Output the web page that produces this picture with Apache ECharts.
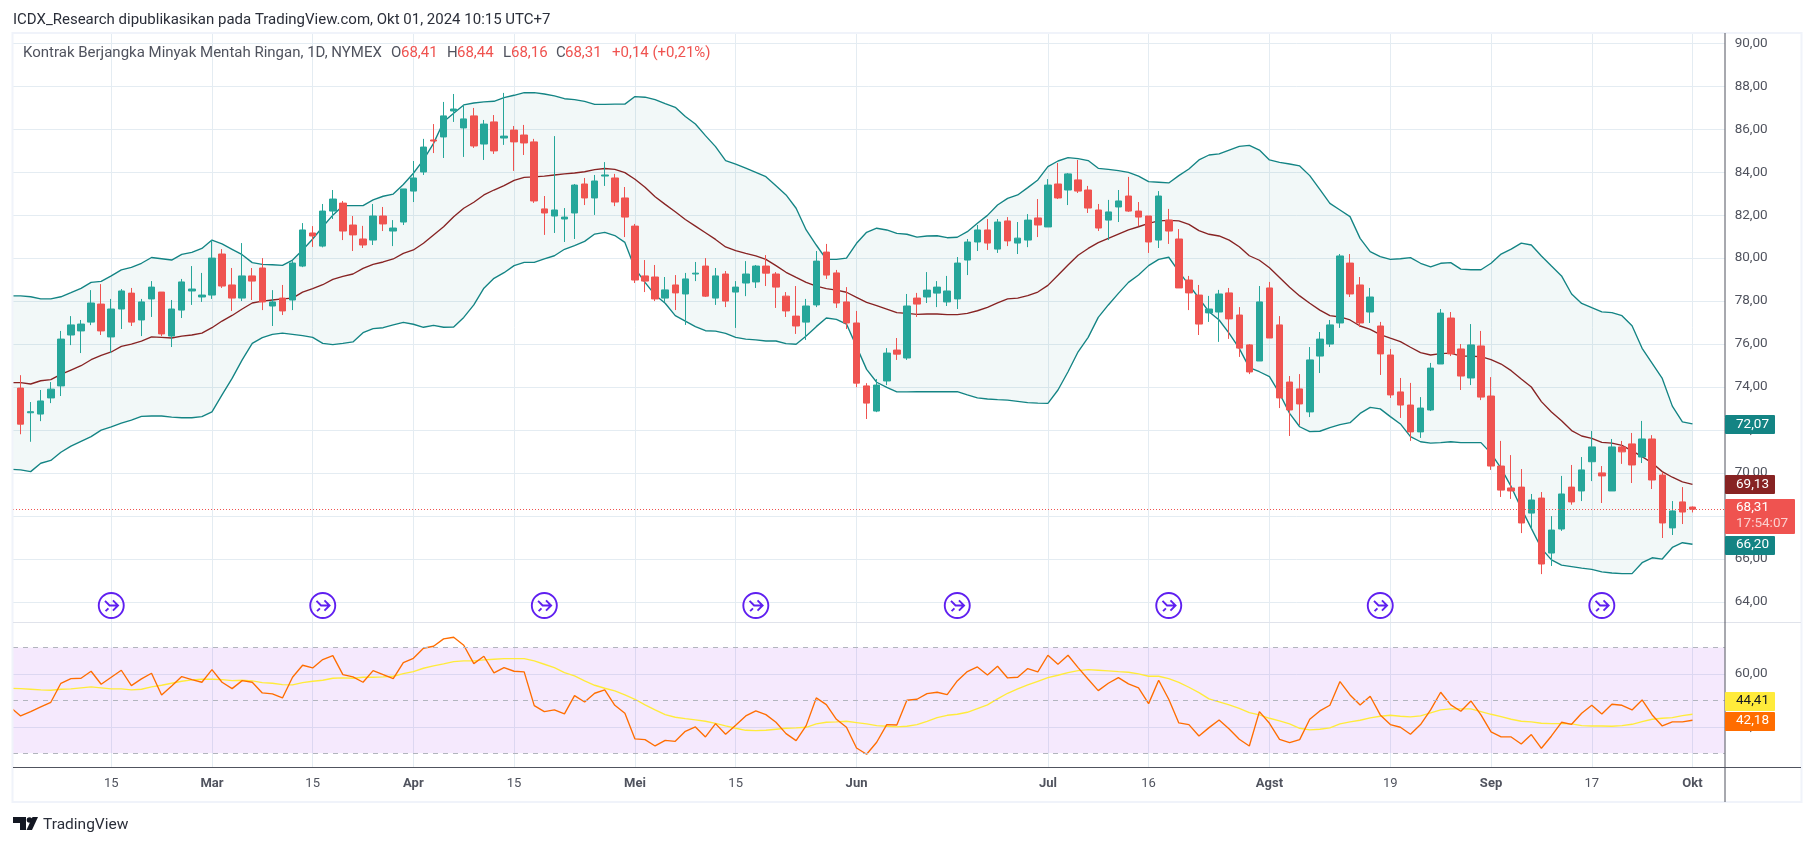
<!DOCTYPE html>
<html><head><meta charset="utf-8"><style>html,body{margin:0;padding:0;background:#fff}#c{width:1814px;height:846px}</style>
<script src="https://cdn.jsdelivr.net/npm/echarts@6/dist/echarts.min.js"></script></head><body><div id="c"></div>
<script>
// ---------- data, one entry per trading day, 2 Feb - 1 Oct 2024 ----------
const opens=[73.95,72.80,72.74,73.49,74.05,76.42,76.61,77.02,77.86,76.33,77.63,78.37,77.12,78.10,78.42,76.37,77.58,78.47,78.19,78.28,80.19,78.75,78.14,79.17,79.54,77.77,78.14,78.05,79.63,81.17,80.56,82.19,82.56,81.54,80.89,80.84,81.96,81.26,81.68,83.12,84.01,85.50,85.64,86.85,86.06,86.62,85.31,86.34,85.59,85.96,85.73,85.41,82.29,81.96,81.82,82.10,83.45,82.80,83.82,83.73,82.80,81.49,79.17,79.12,78.14,78.75,78.33,79.26,79.63,78.14,79.26,78.42,78.84,78.89,79.63,79.26,78.23,77.30,77.02,77.82,80.28,79.31,77.96,76.98,74.05,72.88,74.28,75.72,75.35,78.14,78.19,78.37,77.96,78.10,79.91,80.75,81.31,80.42,81.73,80.70,80.84,81.87,81.45,83.45,83.17,83.64,83.17,82.24,81.77,82.38,82.89,82.19,81.96,80.84,81.77,80.89,78.98,78.28,77.45,77.49,78.38,77.35,75.96,75.21,78.61,76.89,74.23,73.91,72.84,75.44,76.00,76.98,79.77,78.75,77.49,76.84,75.49,73.77,73.16,71.91,72.93,75.07,77.21,75.77,74.42,75.91,73.58,70.32,69.30,69.34,68.13,68.83,66.27,67.39,69.34,69.16,70.52,70.00,69.16,71.21,71.35,70.74,71.58,69.90,67.44,68.65,68.41];
const highs=[74.55,73.30,73.86,74.23,76.61,77.30,77.12,78.51,78.79,78.10,78.56,78.61,78.10,78.93,78.42,78.05,79.03,79.63,79.31,80.84,80.42,79.54,80.70,79.54,80.00,78.51,78.75,79.86,81.63,81.49,82.52,83.17,82.66,81.96,81.50,82.52,82.38,81.77,83.22,84.52,85.55,86.24,87.27,87.64,87.13,86.99,86.43,86.66,87.69,86.15,86.20,85.55,82.89,85.68,82.33,83.45,83.73,83.87,84.47,83.92,83.31,81.59,79.91,79.68,79.12,79.21,79.31,79.82,80.00,79.54,79.40,78.93,79.86,79.68,80.14,79.35,78.42,78.70,78.10,80.33,80.66,79.45,78.65,77.54,74.18,74.37,75.81,76.28,78.33,78.38,79.35,78.93,79.17,80.05,80.89,81.54,81.82,81.82,81.91,81.68,82.05,82.75,83.68,84.43,83.96,84.57,83.36,82.52,82.71,83.17,83.78,82.61,81.96,83.12,82.29,81.35,79.17,78.75,78.24,78.52,78.61,77.72,76.00,78.70,78.89,77.30,74.51,74.60,75.86,76.56,77.12,80.19,80.19,79.12,78.61,77.03,75.77,74.42,74.19,73.53,75.12,77.63,77.49,76.00,76.93,76.61,74.46,71.49,70.83,70.18,69.02,69.11,67.99,69.86,70.37,70.74,71.95,70.32,71.58,71.49,71.86,72.42,71.76,70.04,68.69,69.34,68.44];
const lows=[71.80,71.45,72.41,73.25,73.58,75.95,75.58,76.88,76.42,75.58,76.70,76.84,76.37,77.26,76.37,75.86,77.21,77.82,77.96,78.10,78.61,77.54,78.00,78.05,77.58,76.84,77.35,77.58,79.58,80.52,80.50,81.82,80.84,80.33,80.47,80.61,81.26,80.56,81.54,82.61,83.87,84.89,84.66,86.34,84.71,85.13,84.57,84.85,85.27,84.06,84.80,82.57,81.08,81.17,80.75,80.89,82.47,82.01,83.36,82.42,80.98,78.84,78.42,78.00,77.96,77.58,76.89,78.93,78.19,77.82,77.72,76.75,78.23,78.61,78.70,77.68,77.26,76.47,76.19,77.72,79.03,77.68,76.70,73.99,72.51,72.83,74.09,75.26,75.26,77.26,77.91,77.72,77.77,77.63,79.21,80.33,80.38,80.24,80.56,80.19,80.51,80.98,81.45,82.75,82.47,83.03,82.10,81.26,80.84,81.68,82.15,81.49,80.24,80.47,80.66,78.61,77.58,76.42,77.03,76.10,76.24,75.40,74.60,75.21,76.28,73.02,71.72,72.23,72.60,74.65,75.86,76.75,78.19,76.79,76.98,74.56,73.49,72.56,71.49,71.63,72.88,75.07,75.44,73.86,74.09,73.39,70.14,68.88,68.79,67.20,67.40,65.29,65.67,67.30,68.52,68.69,69.62,68.60,69.16,70.42,69.53,70.46,69.25,66.97,67.11,67.62,68.16];
const closes=[72.27,72.85,73.35,73.90,76.23,76.89,76.93,77.91,76.61,77.63,78.47,77.02,77.96,78.65,76.47,77.63,78.89,78.56,78.28,80.00,78.70,78.14,79.17,78.93,77.96,77.96,77.54,79.77,81.31,81.03,82.19,82.75,81.26,81.08,80.61,81.96,81.59,81.40,83.22,83.73,85.17,85.45,86.62,86.94,86.48,85.22,86.24,84.99,85.68,85.41,85.36,82.66,82.10,82.24,81.91,83.40,82.80,83.59,83.87,82.61,81.91,78.98,78.93,78.10,78.52,78.38,79.03,79.30,78.23,79.17,78.00,78.65,79.26,79.63,79.30,78.65,77.54,76.84,77.77,79.86,79.21,77.91,76.98,74.18,73.25,74.09,75.58,75.53,77.77,77.86,78.51,78.65,78.47,79.77,80.75,81.31,80.70,81.68,80.80,80.93,81.77,81.54,83.40,82.80,83.92,83.12,82.33,81.40,82.15,82.66,82.19,81.91,80.75,82.89,81.26,78.61,78.38,76.93,77.63,78.33,77.17,75.81,74.70,77.96,76.28,73.49,72.93,73.21,75.26,76.23,76.89,80.10,78.33,76.98,78.19,75.54,73.63,73.16,71.91,73.02,74.88,77.44,75.54,74.51,75.96,73.53,70.32,69.20,69.16,67.67,68.74,65.76,67.34,69.02,68.65,70.14,71.21,69.86,71.21,70.98,70.37,71.58,69.67,67.67,68.23,68.18,68.31];
// indicator arrays start one bar before the first candle (that bar is cut off by the pane edge)
const bbUpper=[78.24,78.24,78.20,78.10,78.10,78.20,78.39,78.59,78.87,78.92,79.17,79.45,79.57,79.76,80.03,79.97,79.91,80.17,80.27,80.45,80.84,80.66,80.41,80.16,79.79,79.71,79.69,79.66,79.91,80.38,80.89,81.46,82.00,82.44,82.44,82.44,82.71,82.88,82.98,83.43,83.95,84.57,85.34,86.35,86.74,87.13,87.22,87.27,87.30,87.47,87.58,87.70,87.70,87.64,87.55,87.42,87.38,87.30,87.16,87.16,87.17,87.17,87.52,87.49,87.38,87.19,87.02,86.59,86.24,85.70,85.19,84.54,84.38,84.19,83.99,83.79,83.37,82.94,82.32,81.31,80.61,79.94,79.94,80.00,80.69,81.20,81.39,81.31,81.15,81.11,80.98,81.03,81.04,80.95,80.97,81.23,81.62,81.99,82.47,82.78,82.94,83.28,83.64,84.26,84.52,84.68,84.63,84.54,84.18,84.13,84.07,83.99,83.82,83.56,83.53,83.50,83.84,84.15,84.57,84.80,84.85,85.03,85.20,85.25,85.03,84.57,84.46,84.38,84.29,83.84,83.20,82.55,82.24,81.93,80.92,80.30,80.07,79.94,79.97,80.02,79.76,79.59,79.76,79.79,79.49,79.46,79.46,79.76,80.19,80.42,80.70,80.61,80.10,79.63,79.17,78.33,77.89,77.69,77.50,77.46,77.32,76.85,75.80,75.10,74.40,73.11,72.38,72.28];
const bbBasis=[74.20,74.20,74.14,74.29,74.34,74.59,74.79,74.99,75.27,75.47,75.63,75.89,76.00,76.14,76.33,76.31,76.28,76.37,76.42,76.51,76.76,77.07,77.33,77.63,77.91,78.00,78.05,78.10,78.14,78.42,78.58,78.76,79.01,79.15,79.26,79.52,79.71,79.82,79.96,80.22,80.38,80.69,81.08,81.46,81.93,82.32,82.60,82.94,83.17,83.37,83.62,83.76,83.78,83.82,83.87,83.92,83.96,84.02,84.12,84.17,84.13,83.98,83.67,83.30,82.86,82.50,82.16,81.80,81.49,81.18,80.87,80.52,80.35,80.22,80.10,79.94,79.65,79.34,79.10,78.87,78.70,78.58,78.51,78.41,78.17,77.94,77.79,77.63,77.46,77.43,77.38,77.40,77.40,77.37,77.37,77.43,77.55,77.71,77.92,78.10,78.14,78.25,78.42,78.73,79.20,79.68,80.13,80.45,80.72,80.92,81.12,81.31,81.46,81.62,81.73,81.76,81.73,81.57,81.28,81.11,81.03,80.84,80.53,80.11,79.90,79.55,79.10,78.64,78.24,77.90,77.58,77.32,77.26,77.12,76.84,76.68,76.44,76.27,76.11,75.85,75.60,75.49,75.55,75.58,75.44,75.44,75.41,75.27,75.07,74.76,74.37,74.00,73.32,72.84,72.43,71.97,71.72,71.61,71.42,71.39,71.28,71.03,70.76,70.46,70.06,69.80,69.58,69.47];
const bbLower=[70.17,70.14,70.06,70.45,70.58,70.96,71.25,71.47,71.69,71.99,72.14,72.32,72.46,72.63,72.65,72.65,72.60,72.57,72.57,72.62,72.84,73.63,74.40,75.26,76.03,76.30,76.45,76.51,76.45,76.39,76.31,76.03,75.97,76.03,76.10,76.53,76.72,76.76,76.89,77.01,76.92,76.78,76.87,76.78,76.79,77.24,77.82,78.60,79.06,79.32,79.65,79.80,79.80,79.96,80.11,80.41,80.58,80.78,81.12,81.20,81.05,80.73,79.52,78.87,78.28,77.90,77.32,77.07,76.81,76.62,76.60,76.50,76.31,76.23,76.19,76.14,76.14,76.02,75.99,76.37,76.81,77.21,77.15,76.93,75.88,74.82,74.22,73.98,73.77,73.77,73.78,73.78,73.78,73.78,73.78,73.63,73.49,73.44,73.41,73.39,73.33,73.27,73.25,73.24,73.86,74.71,75.64,76.31,77.24,77.82,78.36,78.87,79.21,79.65,79.94,80.04,79.37,78.75,78.13,77.50,77.12,76.50,75.80,74.90,74.71,74.48,73.70,72.77,72.15,71.92,71.94,72.11,72.25,72.34,72.77,73.05,72.98,72.62,72.28,71.69,71.45,71.39,71.41,71.45,71.41,71.41,71.41,70.91,70.21,69.36,68.35,67.42,66.49,65.95,65.71,65.64,65.57,65.51,65.39,65.34,65.31,65.31,65.82,66.05,65.99,66.53,66.75,66.68];
const rsiLine=[47.4,44.13,45.77,47.54,49.31,56.50,58.27,58.40,61.05,56.13,58.78,61.43,55.62,58.15,60.29,52.09,55.49,59.03,57.89,56.88,61.68,56.88,54.48,57.51,56.88,52.84,52.46,50.95,58.78,63.32,62.31,65.47,66.98,59.79,58.90,56.88,61.30,59.79,58.27,64.33,65.97,69.76,70.52,73.30,73.93,70.90,63.95,66.73,60.42,62.44,61.05,60.80,48.04,45.77,46.40,44.89,51.83,49.43,52.72,53.98,48.17,45.14,35.42,35.17,32.77,34.91,34.53,38.32,39.96,36.18,41.23,37.19,40.60,44.13,46.02,44.64,41.73,37.44,34.79,40.47,50.95,48.42,42.87,39.84,32.01,29.61,34.16,40.85,40.72,50.07,50.44,52.59,53.10,52.21,57.39,60.92,62.69,59.66,62.94,58.52,58.78,62.06,60.80,67.11,63.70,67.11,62.44,58.02,53.73,56.50,58.65,56.25,54.74,48.80,57.64,50.44,41.48,40.85,36.55,39.71,42.62,39.21,35.29,32.77,45.77,41.35,35.29,34.03,35.17,42.87,46.02,48.17,57.14,52.09,48.30,51.58,44.51,40.85,39.84,37.19,40.85,46.40,53.10,48.30,45.90,49.81,44.51,38.07,36.18,36.18,33.52,37.06,31.88,36.55,41.73,40.97,45.14,48.17,44.89,48.55,48.17,46.40,50.19,44.51,40.34,41.86,41.86,42.49];
const rsiMa=[54.6,54.48,54.23,53.98,53.85,54.23,54.36,54.74,55.12,54.74,54.36,54.36,53.98,54.23,55.12,55.75,56.50,57.26,57.77,58.02,58.02,57.89,57.51,57.64,57.39,56.76,56.50,56.00,55.87,56.76,57.26,57.64,58.40,58.52,58.40,58.78,58.78,58.90,59.16,60.17,60.92,62.19,63.07,63.83,64.71,64.96,64.96,65.34,65.60,65.85,65.85,65.85,64.96,63.70,62.44,60.54,59.28,57.39,55.75,54.61,53.60,52.09,50.44,48.30,46.40,44.64,43.63,43.12,42.62,42.11,41.35,40.34,39.46,38.70,38.58,38.70,39.08,39.46,39.59,39.84,41.10,41.73,41.86,42.11,41.60,41.10,40.47,40.22,39.97,40.22,40.85,42.11,43.50,44.38,44.76,45.52,46.91,48.30,50.57,52.72,54.36,55.87,57.26,58.65,59.53,60.54,61.30,61.68,61.43,61.18,60.92,60.67,60.04,59.16,59.16,58.27,56.88,54.99,52.97,50.57,49.43,48.30,47.03,45.39,44.51,43.25,42.24,41.10,39.46,38.83,39.08,39.59,41.10,41.86,42.49,43.37,44.00,44.38,44.00,43.75,44.13,45.27,46.40,46.78,46.78,46.78,45.77,44.76,43.88,42.87,42.11,41.86,41.35,41.23,41.23,41.10,40.47,40.34,40.34,40.22,40.47,40.97,41.98,42.87,43.25,43.50,44.26,44.76];
const dateTickBars=[9,19,29,39,49,61,71,83,102,112,124,136,146,156,166];
const dateTickNames=['15','Mar','15','Apr','15','Mei','15','Jun','Jul','16','Agst','19','Sep','17','Okt'];
const priceTicks=[64,66,68,70,72,74,76,78,80,82,84,86,88,90];
const rsiTicks=[40,60];
const rsiLevels=[70,50,30];
const eventBars=[9,30,52,73,93,114,135,157];
const eventPrice=63.83;
const lastPrice=68.31;

// ---------- styling ----------
const FONT='Roboto, "Noto Sans", sans-serif';
const UP='#26a69a',DOWN='#ef5350',BB='#138484',BASIS='#872323',GRID='#e4ecf2',TXT='#50535e';
const candleData=opens.map((o,i)=>[i,o,closes[i],lows[i],highs[i]]);
const barOf=a=>a.map((v,i)=>[i-1,v]);
const comma=v=>v.toFixed(2).replace('.',',');
const months=new Set(['Mar','Apr','Mei','Jun','Jul','Agst','Sep','Okt']);
const line=(name,data,color,xi)=>({name,type:'line',data,xAxisIndex:xi,yAxisIndex:xi,showSymbol:false,symbol:'none',
  lineStyle:{color,width:1.35},itemStyle:{color},silent:true,z:3});
const xBase={type:'value',min:-0.755,max:169.2,axisLine:{show:false},
  axisTick:{show:false,customValues:dateTickBars},splitLine:{show:true,lineStyle:{color:GRID,width:1}}};
const yBase={type:'value',position:'right',axisLine:{show:false},
  splitLine:{show:true,lineStyle:{color:GRID,width:1}},};
const yLabel=vals=>({customValues:vals,color:TXT,fontFamily:FONT,fontSize:13.5,margin:10,padding:[0,0,4,0],formatter:comma});
const EVENT_ICON='path://M1 12a11 11 0 1 0 22 0a11 11 0 1 0-22 0M6.5 8L10.5 12L18 12M13.5 7.5L18 12L13.5 16.5M9.5 14.5L7 17';

// ---------- fixed page furniture ----------
const txt=(x,y,text,fill,size,extra)=>({type:'text',x,y,z:50,silent:true,style:Object.assign({text,fill,font:`${size}px ${FONT}`,verticalAlign:'middle'},extra||{})});
const box=(x,y,w,h,fill)=>({type:'rect',shape:{x,y,width:w,height:h,r:1},z:49,silent:true,style:{fill}});
const seg=(x1,y1,x2,y2,stroke,lw)=>({type:'line',shape:{x1,y1,x2,y2},z:48,silent:true,style:{stroke,lineWidth:lw||1}});
const graphic=[
  seg(13,622.5,1801,622.5,'#e0e3eb'),
  seg(1725,33,1725,802,'#50535e'),
  seg(13,767.5,1801,767.5,'#50535e'),
  {type:'rect',shape:{x:12.5,y:33,width:1789,height:769},z:47,silent:true,style:{fill:'none',stroke:'#f0f3fa',lineWidth:2}},
  txt(13,20,'ICDX_Research dipublikasikan pada TradingView.com, Okt 01, 2024 10:15 UTC+7','#2a2e39',15),
  txt(23,53,'Kontrak Berjangka Minyak Mentah Ringan, 1D, NYMEX','#50535e',15),
  txt(391,53,'O','#50535e',15),txt(401,53,'68,41',DOWN,15),
  txt(447,53,'H','#50535e',15),txt(457,53,'68,44',DOWN,15),
  txt(503,53,'L','#50535e',15),txt(511,53,'68,16',DOWN,15),
  txt(556,53,'C','#50535e',15),txt(565,53,'68,31',DOWN,15),
  txt(612,53,'+0,14 (+0,21%)',DOWN,15),
  box(1725,415,50,19,BB),txt(1736,424.5,'72,07','#fff',13.5),
  box(1725,475,50,19,BASIS),txt(1736,484.5,'69,13','#fff',13.5),
  box(1725,499,70,35,DOWN),txt(1736,508,'68,31','#fff',13.5),txt(1736,524,'17:54:07','#fbd0cf',13.5),
  box(1725,536,50,19,BB),txt(1736,545,'66,20','#fff',13.5),
  box(1725,692,50,19,'#ffeb3b'),txt(1736,701,'44,41','#131722',13.5),
  box(1725,712,50,19,'#ff6d00'),txt(1736,721,'42,18','#fff',13.5),
  {type:'polygon',z:50,silent:true,shape:{points:[[13,817],[26,817],[26,830],[20,830],[20,823],[13,823]]},style:{fill:'#131722'}},
  {type:'circle',z:50,silent:true,shape:{cx:29.5,cy:820,r:2.8},style:{fill:'#131722'}},
  {type:'polygon',z:50,silent:true,shape:{points:[[32.5,817],[38,817],[32,830],[26.5,830]]},style:{fill:'#131722'}},
  txt(43,825,'TradingView','#2a2e39',15.5),
];

// ---------- chart ----------
const chart=echarts.init(document.getElementById('c'),null,{renderer:'canvas'});
chart.setOption({
  animation:false,backgroundColor:'#fff',graphic,
  grid:[
    {left:13,right:89.3,top:33.5,height:588.5,containLabel:false},
    {left:13,right:89.3,top:622,height:145,containLabel:false}
  ],
  xAxis:[
    Object.assign({},xBase,{gridIndex:0,axisLabel:{show:false}}),
    Object.assign({},xBase,{gridIndex:1,axisLabel:{show:true,customValues:dateTickBars,margin:10,fontFamily:FONT,fontSize:13,color:TXT,hideOverlap:false,
      formatter:v=>{const n=dateTickNames[dateTickBars.indexOf(v)]||'';return months.has(n)?`{m|${n}}`:n;},
      rich:{m:{fontWeight:'bold',fontFamily:FONT,fontSize:13,color:TXT}}}})
  ],
  yAxis:[
    Object.assign({},yBase,{gridIndex:0,min:63.06,max:90.456,axisLabel:yLabel(priceTicks),axisTick:{show:false,customValues:priceTicks}}),
    Object.assign({},yBase,{gridIndex:1,min:24.8,max:79.7,axisLabel:yLabel(rsiTicks),axisTick:{show:false,customValues:rsiTicks}})
  ],
  series:[
    {name:'BB fill',type:'custom',xAxisIndex:0,yAxisIndex:0,silent:true,z:2,data:[[0,bbUpper[0]]],clip:true,
     renderItem:(p,api)=>{
       const top=bbUpper.map((v,i)=>api.coord([i-1,v]));
       const bot=bbLower.map((v,i)=>api.coord([i-1,v])).reverse();
       return {type:'polygon',shape:{points:top.concat(bot)},style:{fill:'rgba(19,132,132,0.055)'},
         clipPath:{type:'rect',shape:{x:p.coordSys.x,y:p.coordSys.y,width:p.coordSys.width,height:p.coordSys.height}}};
     }},
    line('BB upper',barOf(bbUpper),BB,0),
    line('BB lower',barOf(bbLower),BB,0),
    line('BB basis',barOf(bbBasis),BASIS,0),
    {name:'CL1!',type:'candlestick',xAxisIndex:0,yAxisIndex:0,data:candleData,barWidth:7,z:4,silent:true,
     itemStyle:{color:UP,color0:DOWN,borderColor:UP,borderColor0:DOWN,borderWidth:1},
     markLine:{silent:true,symbol:'none',animation:false,label:{show:false},
       lineStyle:{color:DOWN,type:[1,2],width:1},data:[{yAxis:lastPrice}]}},
    {name:'Peristiwa',type:'scatter',xAxisIndex:0,yAxisIndex:0,silent:true,z:5,symbol:EVENT_ICON,symbolSize:25,
     data:eventBars.map(b=>[b,eventPrice]),itemStyle:{color:'rgba(255,255,255,0)',borderColor:'#5f1ff0',borderWidth:1.9,opacity:1}},
    Object.assign(line('RSI',barOf(rsiLine),'#ff6d00',1),{z:4,
      markArea:{silent:true,itemStyle:{color:'rgba(145,15,235,0.09)'},data:[[{yAxis:rsiLevels[0]},{yAxis:rsiLevels[2]}]]},
      markLine:{silent:true,symbol:'none',animation:false,label:{show:false},lineStyle:{color:'#b2b5be',type:[5,5],width:1},
        data:rsiLevels.map(v=>({yAxis:v}))}}),
    line('RSI MA',barOf(rsiMa),'#ffeb3b',1),
  ]
});
</script></body></html>
